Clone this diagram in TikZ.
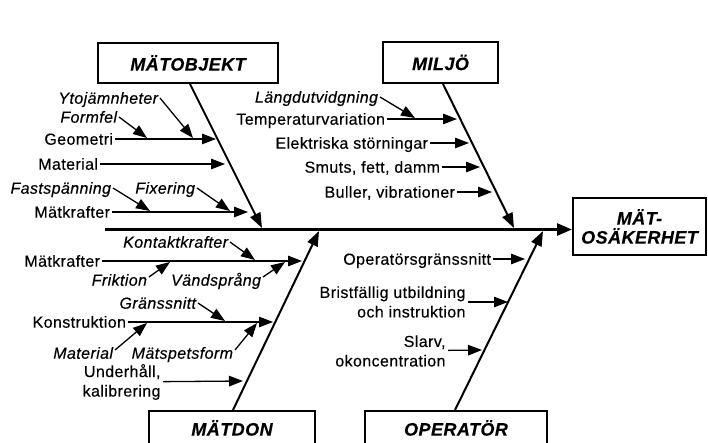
\documentclass[tikz,border=0pt]{standalone}
\usepackage{fontspec}
\setmainfont{Liberation Sans}[LetterSpace=2.5, FakeBold=0.3]
\usetikzlibrary{arrows.meta}
\tikzset{
  lbl/.style={font=\fontsize{16}{18}\selectfont, inner sep=0pt, outer sep=2pt,
    text height=11.4pt, text depth=0pt, anchor=east},
  ilbl/.style={lbl, font=\fontsize{16}{18}\selectfont\itshape},
  mlbl/.style={font=\fontsize{16}{19.5}\selectfont, inner sep=0pt, outer sep=2.5pt,
    align=right, anchor=east},
  catbox/.style={draw, line width=2pt, font=\fontsize{18}{19}\selectfont\bfseries\itshape,
    inner sep=0pt, align=center},
  br/.style={line width=1.3pt, -{Triangle[length=14pt,width=10.5pt]}},
  spine/.style={line width=2pt, -{Triangle[length=15pt,width=11pt]}},
  mainl/.style={line width=2.5pt, -{Triangle[length=15pt,width=12pt]}},
}
\begin{document}
\begin{tikzpicture}[x=1pt,y=-1pt]
\useasboundingbox (0,0) rectangle (708,443);
\clip (0,0) rectangle (708,443);

% category boxes
\node[catbox, minimum width=180pt, minimum height=40pt] (mo) at (188,63) {MÄTOBJEKT};
\node[catbox, minimum width=115pt, minimum height=41pt] (mi) at (440.5,62.5) {MILJÖ};
\node[catbox, minimum width=133pt, minimum height=57pt] (eff) at (639.5,226.5) {MÄT-\\OSÄKERHET};
\node[catbox, minimum width=166pt, minimum height=34pt] (md) at (232,428) {MÄTDON};
\node[catbox, minimum width=182pt, minimum height=34pt] (op) at (456,428) {OPERATÖR};

% main line
\coordinate (mstart) at (105,229.5);
\draw[mainl] (mstart) -- (eff.west |- mstart);

% spines
\coordinate (tMO) at (262,228);
\coordinate (tMI) at (514,228);
\coordinate (tMD) at (319,231);
\coordinate (tOP) at (543,231);
\draw[spine] ([xshift=2pt]mo.south) -- (tMO);
\draw[spine] ([xshift=2.5pt]mi.south) -- (tMI);
\draw[spine] ([xshift=1pt]md.north) -- (tMD);
\draw[spine] ([xshift=-1pt]op.north) -- (tOP);

% ---------- MÄTOBJEKT ----------
\node[ilbl] (yto) at (160,98) {Ytojämnheter};
\node[ilbl] (form) at (119,117) {Formfel};
\node[lbl] (geo) at (115,139) {Geometri};
\node[lbl] (mat) at (100,164) {Material};
\node[ilbl] (fast) at (113,188) {Fastspänning};
\node[ilbl] (fix) at (197,188) {Fixering};
\node[lbl] (mkA) at (112,212) {Mätkrafter};
\coordinate (tGeo) at (216,139);
\coordinate (tYto) at (193,138);
\coordinate (tForm) at (147,138);
\coordinate (tMat) at (225,164);
\coordinate (tMkA) at (248,212);
\coordinate (tFast) at (150,211);
\coordinate (tFix) at (230,211);
\draw[br] (geo) -- (tGeo);
\draw[br] (yto.east) -- (tYto);
\draw[br] (form.east) -- (tForm);
\draw[br] (mat) -- (tMat);
\draw[br] (mkA) -- (tMkA);
\draw[br] (fast.east) -- (tFast);
\draw[br] (fix.east) -- (tFix);

% ---------- MILJÖ ----------
\node[ilbl] (lang) at (380,97) {Längdutvidgning};
\node[lbl] (temp) at (387,119) {Temperaturvariation};
\node[lbl] (elek) at (430,143) {Elektriska störningar};
\node[lbl] (smuts) at (442,167) {Smuts, fett, damm};
\node[lbl] (bull) at (457,192) {Buller, vibrationer};
\coordinate (tLang) at (415,118);
\coordinate (tTemp) at (457,119);
\coordinate (tElek) at (469,143);
\coordinate (tSmuts) at (480,167);
\coordinate (tBull) at (492,192);
\draw[br] (lang.east) -- (tLang);
\draw[br] (temp) -- (tTemp);
\draw[br] (elek) -- (tElek);
\draw[br] (smuts) -- (tSmuts);
\draw[br] (bull) -- (tBull);

% ---------- MÄTDON ----------
\node[ilbl] (kont) at (230,242) {Kontaktkrafter};
\node[lbl] (mkB) at (102,261) {Mätkrafter};
\node[ilbl] (frik) at (149,280) {Friktion};
\node[ilbl] (vand) at (263,280) {Vändsprång};
\node[ilbl] (grans) at (198,303) {Gränssnitt};
\node[lbl] (konst) at (128,322) {Konstruktion};
\node[ilbl] (matB) at (115,353) {Material};
\node[ilbl] (spets) at (235,353) {Mätspetsform};
\node[mlbl] (unde) at (163,382) {Underhåll,\\kalibrering};
\coordinate (tMkB) at (302,261);
\coordinate (tKont) at (255,260);
\coordinate (tFrik) at (170,262);
\coordinate (tVand) at (285,262);
\coordinate (tKonst) at (273,322);
\coordinate (tGrans) at (225,321);
\coordinate (tMatB) at (147,323);
\coordinate (tSpets) at (257,323);
\coordinate (tUnde) at (243,381);
\draw[br] (mkB) -- (tMkB);
\draw[br] (kont.east) -- (tKont);
\draw[br] ([yshift=3pt]frik.east) -- (tFrik);
\draw[br] ([yshift=3pt]vand.east) -- (tVand);
\draw[br] (konst) -- (tKonst);
\draw[br] (grans.east) -- (tGrans);
\draw[br] ([yshift=3pt]matB.east) -- (tMatB);
\draw[br] ([yshift=3pt]spets.east) -- (tSpets);
\draw[br] (unde) -- (tUnde);

% ---------- OPERATÖR ----------
\node[lbl] (ogr) at (493,259) {Operatörsgränssnitt};
\node[mlbl] (brist) at (468,302) {Bristfällig utbildning\\och instruktion};
\node[mlbl] (slarv) at (448,351) {Slarv,\\okoncentration};
\coordinate (tOgr) at (525,259);
\coordinate (tBrist) at (508,302);
\coordinate (tSlarv) at (482,350);
\draw[br] (ogr) -- (tOgr);
\draw[br] (brist) -- (tBrist);
\draw[br] (slarv) -- (tSlarv);
\end{tikzpicture}
\end{document}
